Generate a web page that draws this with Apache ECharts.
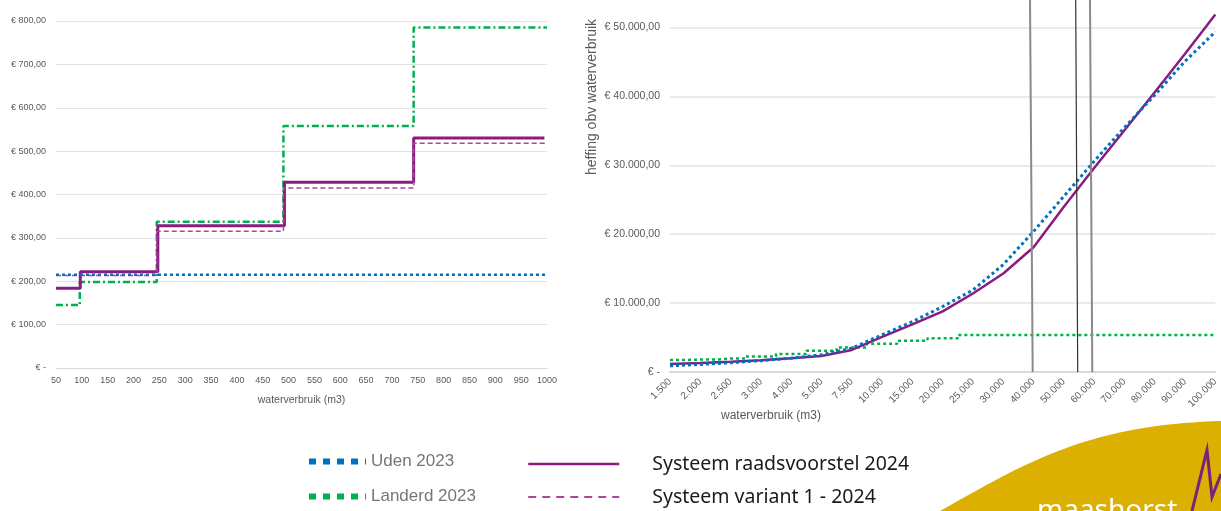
<!DOCTYPE html>
<html>
<head>
<meta charset="utf-8">
<script src="https://cdn.jsdelivr.net/npm/echarts@6/dist/echarts.min.js"></script>
<style>
html,body{margin:0;padding:0;background:#fff;}
#c{width:1221px;height:511px;}
</style>
</head>
<body>
<div id="c"></div>
<script>
// ---------- Left chart (per household, 50 - 1000 m3) ----------
const udenLeftX = [50, 1000];
const udenLeftY = [215, 215];
const landerdLeftX = [50, 96, 245, 490, 742, 1000];
const landerdLeftY = [145, 198, 337, 558, 785, 785];
const raadsLeftX = [50, 97, 247, 492, 742, 995];
const raadsLeftY = [184, 222, 328, 428, 530, 530];
const variantLeftX = [50, 245, 490, 742, 1000];
const variantLeftY = [213, 315, 415, 518, 518];

// ---------- Right chart (large users, 1.500 - 100.000 m3) ----------
const rightCategories = ['1.500','2.000','2.500','3.000','4.000','5.000','7.500','10.000','15.000','20.000','25.000','30.000','40.000','50.000','60.000','70.000','80.000','90.000','100.000'];
const udenRight    = [900, 1100, 1350, 1650, 2000, 2500, 3450, 5400, 7300, 9500, 11900, 15600, 20400, 25500, 30600, 35500, 40200, 45100, 49400];
const landerdRight = [1750, 1800, 1950, 2250, 2600, 3100, 3550, 4100, 4550, 4900, 5380, 5380, 5380, 5380, 5380, 5380, 5380, 5380, 5380];
const raadsRight   = [1160, 1300, 1500, 1720, 1990, 2330, 3200, 5100, 6900, 8800, 11400, 14300, 18100, 24000, 29600, 35100, 40600, 46200, 51900];

const NAMES = ['Uden 2023','Landerd 2023','Systeem raadsvoorstel 2024','Systeem variant 1 - 2024'];
const C_BLUE = '#0070C0', C_GREEN = '#00B050', C_PURPLE = '#8A1C80', C_VAR = '#A8479F';

function zip(xs, ys){ return xs.map((x,i)=>[x, ys[i]]); }
function fmtEuro(v){
  if (v === 0) return '€ -';
  const s = Math.round(v).toString().replace(/\B(?=(\d{3})+(?!\d))/g, '.');
  return '€ ' + s + ',00';
}

const chart = echarts.init(document.getElementById('c'), null, {renderer:'canvas'});
const axisLabelColor = '#595959';
const gridColor = '#e3e3e3';
const noSymbol = {color:'rgba(0,0,0,0)', borderColor:'rgba(0,0,0,0)', borderWidth:0};

// logo curve (decorative)
function bez(p0,p1,p2,p3,n){
  const pts=[];
  for(let i=0;i<=n;i++){const t=i/n,u=1-t;
    pts.push([u*u*u*p0[0]+3*u*u*t*p1[0]+3*u*t*t*p2[0]+t*t*t*p3[0],
              u*u*u*p0[1]+3*u*u*t*p1[1]+3*u*t*t*p2[1]+t*t*t*p3[1]]);}
  return pts;
}
const logoPts = bez([940,511],[1030,460],[1090,425],[1221,421],40).concat([[1221,511]]);

const option = {
  animation: false,
  backgroundColor: '#fff',
  grid: [
    {left: 56, right: 674, top: 21, bottom: 143, containLabel: false},
    {left: 670, right: 3, top: 0, bottom: 139, containLabel: false}
  ],
  xAxis: [
    {gridIndex:0, type:'value', min:50, max:1000, interval:50,
     axisLine:{show:true, lineStyle:{color:'#d9d9d9', width:1}},
     axisTick:{show:false}, splitLine:{show:false},
     axisLabel:{color:axisLabelColor, fontSize:9, fontFamily:'Liberation Sans', margin:8, formatter: v => String(v)},
     name:'waterverbruik (m3)', nameLocation:'middle', nameGap:27,
     nameTextStyle:{color:axisLabelColor, fontSize:10.5, fontFamily:'Liberation Sans'}},
    {gridIndex:1, type:'category', data: rightCategories, boundaryGap:false,
     axisLine:{show:true, lineStyle:{color:'#d9d9d9', width:2}},
     axisTick:{show:false}, splitLine:{show:false},
     axisLabel:{color:axisLabelColor, fontSize:10, fontFamily:'Liberation Sans', rotate:45, interval:0, margin:8}}
  ],
  yAxis: [
    {gridIndex:0, type:'value', min:0, max:800, interval:100,
     axisLine:{show:false}, axisTick:{show:false},
     splitLine:{lineStyle:{color:gridColor, width:1}},
     axisLabel:{color:axisLabelColor, fontSize:9, fontFamily:'Liberation Sans', margin:10, formatter: fmtEuro}},
    {gridIndex:1, type:'value', min:0, max:54000, interval:10000,
     axisLine:{show:false}, axisTick:{show:false},
     splitLine:{showMaxLine:false, lineStyle:{color:gridColor, width:1.5}},
     axisLabel:{color:axisLabelColor, fontSize:10.5, fontFamily:'Liberation Sans', margin:10, showMaxLabel:false,
       formatter: v => (v % 10000 === 0 ? fmtEuro(v) : '')}}
  ],
  legend: [
    {orient:'vertical', left:306, top:453, height:100, padding:0, itemWidth:57, itemHeight:12, itemGap:18,
     textStyle:{color:'#767676', fontSize:17, fontFamily:'Liberation Sans'},
     data:[
       {name:NAMES[0], itemStyle:noSymbol, lineStyle:{color:C_BLUE, width:6, type:[7,7], cap:'butt'}},
       {name:NAMES[1], itemStyle:noSymbol, lineStyle:{color:C_GREEN, width:6, type:[7,7], cap:'butt'}}
     ]},
    {orient:'vertical', left:527, top:454, height:100, padding:0, itemWidth:91, itemHeight:12, itemGap:13,
     textStyle:{color:'#1a1a1a', fontSize:19.5, fontFamily:'Noto Sans', padding:[0,0,0,28]},
     data:[
       {name:NAMES[2], itemStyle:noSymbol, lineStyle:{color:C_PURPLE, width:2.5}},
       {name:NAMES[3], itemStyle:noSymbol, lineStyle:{color:C_VAR, width:2, type:[8,6]}}
     ]}
  ],
  series: [
    {name:NAMES[1], type:'line', xAxisIndex:0, yAxisIndex:0, step:'end', symbol:'none',
     lineStyle:{color:C_GREEN, width:2.5, type:[7,3,2,3]}, itemStyle:{color:C_GREEN},
     data: zip(landerdLeftX, landerdLeftY)},
    {name:NAMES[2], type:'line', xAxisIndex:0, yAxisIndex:0, step:'end', symbol:'none',
     lineStyle:{color:C_PURPLE, width:3}, itemStyle:{color:C_PURPLE},
     data: zip(raadsLeftX, raadsLeftY)},
    {name:NAMES[3], type:'line', xAxisIndex:0, yAxisIndex:0, step:'end', symbol:'none',
     lineStyle:{color:C_VAR, width:1.5, type:[5,3]}, itemStyle:{color:C_VAR},
     data: zip(variantLeftX, variantLeftY)},
    {name:NAMES[0], type:'line', xAxisIndex:0, yAxisIndex:0, step:'end', symbol:'none',
     lineStyle:{color:C_BLUE, width:2.5, type:[3,3]}, itemStyle:{color:C_BLUE},
     data: zip(udenLeftX, udenLeftY)},

    {name:NAMES[1], type:'line', xAxisIndex:1, yAxisIndex:1, step:'middle', symbol:'none',
     lineStyle:{color:C_GREEN, width:2.5, type:[3,3]}, itemStyle:{color:C_GREEN},
     data: landerdRight},
    {name:NAMES[2], type:'line', xAxisIndex:1, yAxisIndex:1, symbol:'none',
     lineStyle:{color:C_PURPLE, width:2.5}, itemStyle:{color:C_PURPLE},
     data: raadsRight},
    {name:NAMES[0], type:'line', xAxisIndex:1, yAxisIndex:1, symbol:'none',
     lineStyle:{color:C_BLUE, width:3, type:[3,3]}, itemStyle:{color:C_BLUE},
     data: udenRight}
  ],
  graphic: [
    {type:'text', rotation: Math.PI/2, x:592, y:97, z:10,
     style:{text:'heffing obv waterverbruik', fill:axisLabelColor, font:'14px "Liberation Sans"', align:'center', verticalAlign:'middle'}},
    {type:'text', x:771, y:416, z:10,
     style:{text:'waterverbruik (m3)', fill:axisLabelColor, font:'12px "Liberation Sans"', align:'center', verticalAlign:'middle'}},
    {type:'line', z:20, shape:{x1:1030, y1:0, x2:1032.7, y2:372}, style:{stroke:'#8a8a8a', lineWidth:2}},
    {type:'line', z:20, shape:{x1:1075.7, y1:0, x2:1077.7, y2:372}, style:{stroke:'#333333', lineWidth:1.2}},
    {type:'line', z:20, shape:{x1:1090, y1:0, x2:1092.3, y2:372}, style:{stroke:'#8a8a8a', lineWidth:2}},
    {type:'polygon', z:30, shape:{points: logoPts}, style:{fill:'#DCB000'}},
    {type:'text', z:31, x:1037, y:511,
     style:{text:'maashorst', fill:'#ffffff', font:'28px "Noto Sans"', align:'left', verticalAlign:'middle'}},
    {type:'polyline', z:31, shape:{points:[[1192,511],[1207,450],[1212,497],[1221,474]]},
     style:{stroke:'#7D1F7E', lineWidth:3, fill:null}}
  ]
};
chart.setOption(option);
</script>
</body>
</html>
